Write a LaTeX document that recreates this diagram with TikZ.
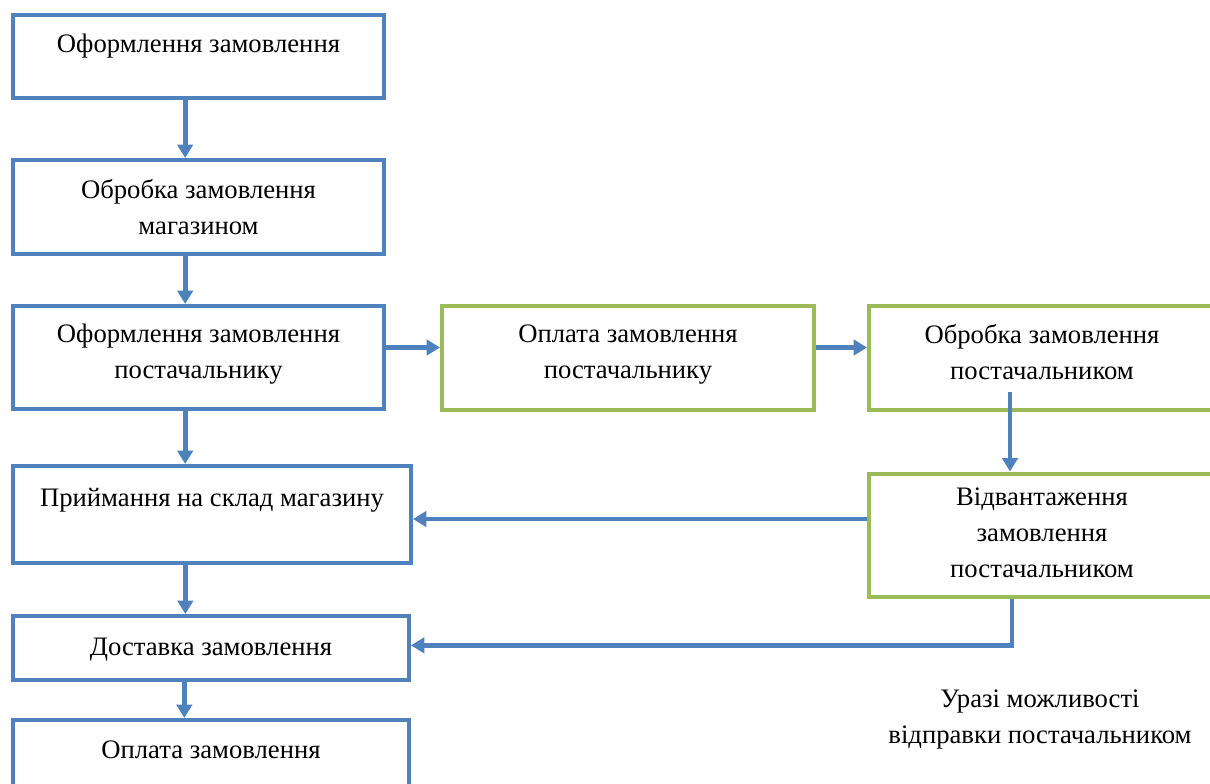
\documentclass[tikz,border=0pt]{standalone}
\usepackage{fontspec}
\setmainfont{Liberation Serif}
\usepackage{xcolor}
\definecolor{bleu}{RGB}{79,129,189}
\definecolor{vert}{RGB}{155,187,89}
\usepackage{tikz}
\usetikzlibrary{calc,positioning,arrows.meta}
\tikzset{
  stage/.style={rectangle, draw=bleu, line width=3pt, fill=white, align=center, inner sep=0pt, font=\fontsize{20}{27}\selectfont},
  gstage/.style={stage, draw=vert},
  tpos/.style 2 args={text height=#1, text depth=#2},
  note/.style={align=center, font=\fontsize{20}{27}\selectfont},
  line/.style={draw=bleu, line width=3.5pt, -{Triangle[length=10pt,width=11.5pt]}},
}
\begin{document}
\begin{tikzpicture}[x=0.75pt,y=-0.75pt]
  \useasboundingbox (0,0) rectangle (1210,783);
  \clip (0,0) rectangle (1210,783);
  \node[stage,tpos={15pt}{20.3pt},minimum width=278.25pt,minimum height=62.25pt] (order) at (198.5,56.5) {Оформлення замовлення};
  \node[stage,tpos={46.5pt}{6pt},minimum width=278.25pt,minimum height=70.5pt] (shop) at (198.5,207) {Обробка замовлення\\магазином};
  \node[stage,tpos={37.5pt}{6pt},minimum width=278.25pt,minimum height=77.25pt] (supord) at (198.5,357.5) {Оформлення замовлення\\постачальнику};
  \node[gstage,tpos={37.5pt}{6pt},minimum width=279pt,minimum height=78pt,right=40.5pt of supord] (suppay) {Оплата замовлення\\постачальнику};
  \node[gstage,tpos={38.5pt}{6pt},minimum width=259.5pt,minimum height=78pt,right=38.25pt of suppay] (supproc) {Обробка замовлення\\постачальником};
  \node[gstage,tpos={69pt}{6pt},minimum width=259.5pt,minimum height=92.25pt,below=45pt of supproc] (ship) {Відвантаження\\замовлення\\постачальником};
  \node[stage,tpos={15pt}{27.7pt},minimum width=298.5pt,minimum height=72.75pt] (store) at (212,514.5) {Приймання на склад магазину};
  \node[stage,tpos={15pt}{4.5pt},minimum width=297pt,minimum height=48pt] (deliv) at (211,648) {Доставка замовлення};
  \node[stage,tpos={15pt}{25.5pt},minimum width=297pt,minimum height=67.5pt] (pay) at (211,765) {Оплата замовлення};
  \node[note] (remark) at (1040,719) {Уразі можливості\\відправки постачальником};
  \path
    ([xshift=-10pt]order.south) edge[line] ([xshift=-10pt]shop.north)
    ([xshift=-10pt]shop.south) edge[line] ([xshift=-10pt]supord.north)
    ([xshift=-10pt]supord.south) edge[line] ([xshift=-10pt]supord.south |- store.north)
    ([xshift=-20pt]store.south) edge[line] ([xshift=-20pt]store.south |- deliv.north)
    ([xshift=-20pt]deliv.south) edge[line] ([xshift=-20pt]deliv.south |- pay.north)
    ([yshift=7.5pt]supord.east) edge[line] ([yshift=7.5pt]supord.east -| suppay.west)
    ([yshift=7.5pt]suppay.east) edge[line] ([yshift=7.5pt]suppay.east -| supproc.west)
    ([xshift=-24pt,yshift=15pt]supproc.south) edge[line] ([xshift=-24pt]supproc.south |- ship.north)
    ([yshift=12pt]ship.west) edge[line] ([yshift=12pt]ship.west -| store.east);
  \draw[line] ([xshift=-22.5pt]ship.south) |- ([yshift=2pt]deliv.east);
\end{tikzpicture}
\end{document}
